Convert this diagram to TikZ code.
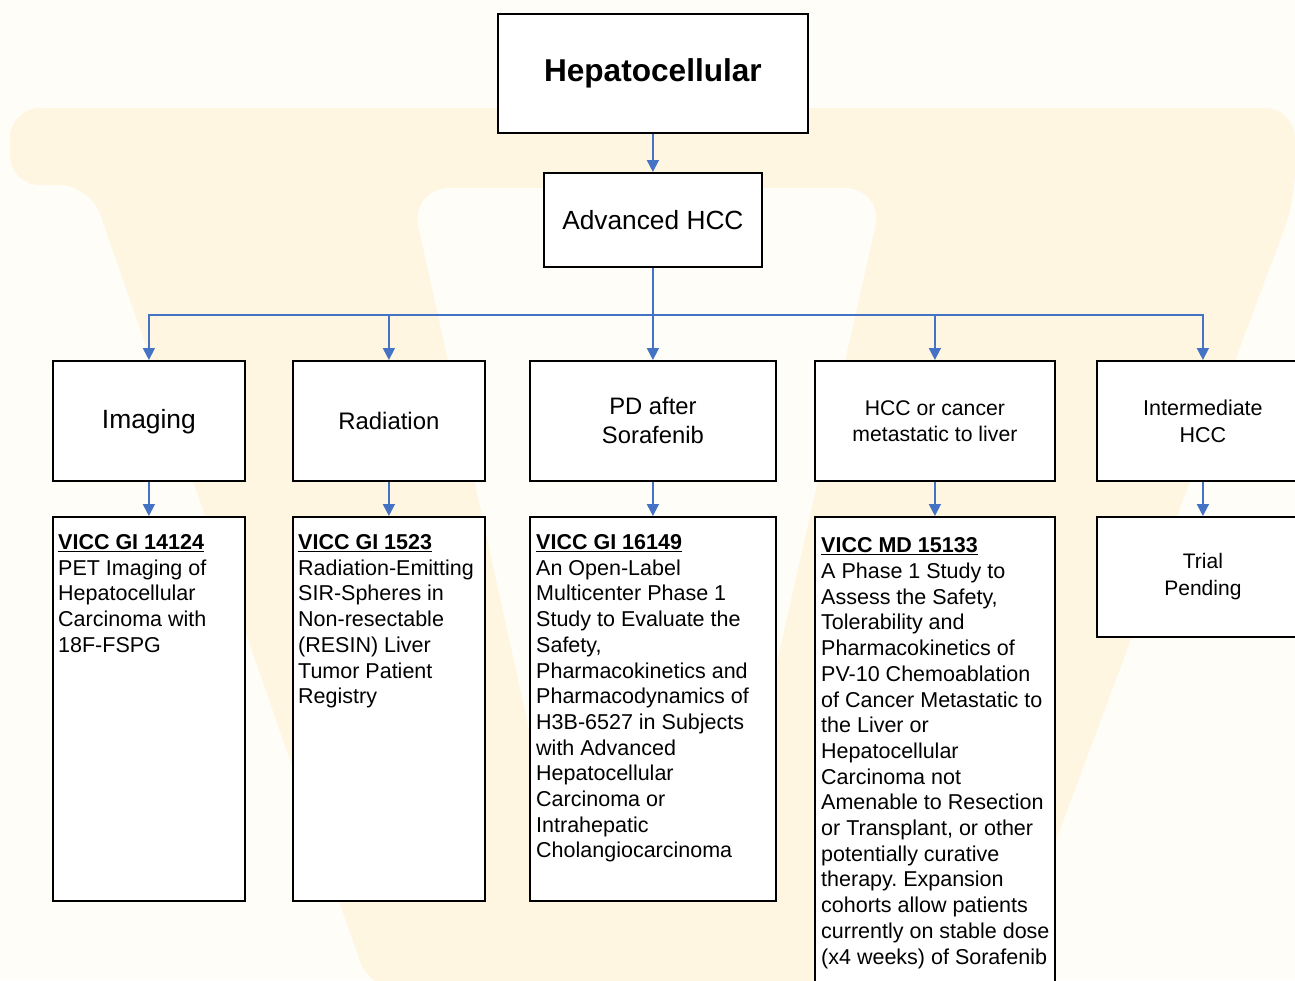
\documentclass[tikz,border=0pt]{standalone}
\usepackage{fontspec}
\setmainfont{Liberation Sans}
\usetikzlibrary{arrows.meta}
\definecolor{bgc}{HTML}{FEFDF8}
\definecolor{wmc}{HTML}{FFF6E2}
\definecolor{linkblue}{HTML}{4472C4}
\frenchspacing
\begin{document}
\begin{tikzpicture}[x=1pt,y=-1pt,
  box/.style={draw=black, line width=1.8pt, fill=white, inner sep=0pt, anchor=north west, align=center},
  body/.style={inner sep=0pt, anchor=north west, align=left, font=\fontsize{21.5pt}{25.7pt}\selectfont},
  link/.style={draw=linkblue, line width=1.7pt, -{Triangle[width=12pt,length=12pt]}},
  bus/.style={draw=linkblue, line width=1.7pt}]
\useasboundingbox (0,0) rectangle (1295,980);
\clip (0,0) rectangle (1295,980);
% background and watermark
\fill[bgc] (0,0) rectangle (1295,980);
\fill[wmc, rounded corners=30pt] (10,108) -- (1295,108) -- (1295,200) -- (1000,990) -- (370,990) -- (90,185) -- (10,185) -- cycle;
\fill[bgc, rounded corners=40pt] (410,188) -- (884,188) -- (730,870) -- (560,870) -- cycle;

% top levels
\node[box, minimum width=310pt, minimum height=119pt, font=\bfseries\fontsize{31.6pt}{36pt}\selectfont] (top) at (497,13) {Hepatocellular};
\node[box, minimum width=218pt, minimum height=94pt, font=\fontsize{26.3pt}{30pt}\selectfont] (adv) at (543,172) {Advanced HCC};

% level 2
\node[box, minimum width=192pt, minimum height=120pt, font=\fontsize{26.4pt}{30pt}\selectfont, text depth=3pt] (img) at (52,360) {Imaging};
\node[box, minimum width=192pt, minimum height=120pt, font=\fontsize{23.9pt}{28pt}\selectfont] (rad) at (292,360) {Radiation};
\node[box, minimum width=246pt, minimum height=120pt, font=\fontsize{23.8pt}{29pt}\selectfont] (pd) at (529,360) {PD after\\Sorafenib};
\node[box, minimum width=240pt, minimum height=120pt, font=\fontsize{21.2pt}{26pt}\selectfont] (met) at (814,360) {HCC or cancer\\metastatic to liver};
\node[box, minimum width=212pt, minimum height=120pt, font=\fontsize{21.5pt}{27pt}\selectfont] (inter) at (1096,360) {Intermediate\\HCC};

% level 3
\node[box, minimum width=192pt, minimum height=384pt] (t1) at (52,516) {};
\node[box, minimum width=192pt, minimum height=384pt] (t2) at (292,516) {};
\node[box, minimum width=246pt, minimum height=384pt] (t3) at (529,516) {};
\node[box, minimum width=240pt, minimum height=480pt] (t4) at (814,516) {};
\node[box, minimum width=212pt, minimum height=120pt, font=\fontsize{21pt}{27pt}\selectfont] (t5) at (1096,516) {Trial\\Pending};

\node[body] (t1txt) at ([xshift=6pt,yshift=-18.3pt]t1.north west) {\underline{\textbf{VICC GI 14124}}\\PET Imaging of\\Hepatocellular\\Carcinoma with\\18F-FSPG};
\node[body] (t2txt) at ([xshift=6pt,yshift=-18.3pt]t2.north west) {\underline{\textbf{VICC GI 1523}}\\Radiation-Emitting\\SIR-Spheres in\\Non-resectable\\(RESIN) Liver\\Tumor Patient\\Registry};
\node[body] (t3txt) at ([xshift=7pt,yshift=-18.3pt]t3.north west) {\underline{\textbf{VICC GI 16149}}\\An Open-Label\\Multicenter Phase 1\\Study to Evaluate the\\Safety,\\Pharmacokinetics and\\Pharmacodynamics of\\H3B-6527 in Subjects\\with Advanced\\Hepatocellular\\Carcinoma or\\Intrahepatic\\Cholangiocarcinoma};
\node[body] (t4txt) at ([xshift=7pt,yshift=-21.6pt]t4.north west) {\underline{\textbf{VICC MD 15133}}\\A Phase 1 Study to\\Assess the Safety,\\Tolerability and\\Pharmacokinetics of\\PV-10 Chemoablation\\of Cancer Metastatic to\\the Liver or\\Hepatocellular\\Carcinoma not\\Amenable to Resection\\or Transplant, or other\\potentially curative\\therapy. Expansion\\cohorts allow patients\\currently on stable dose\\(x4 weeks) of Sorafenib};

% connectors
\coordinate (hub) at (adv.south |- 0,315);
\draw[link] (top.south) -- (adv.north);
\draw[bus] (adv.south) -- (hub);
\draw[link] (hub) -| (img.north);
\draw[link] (hub) -| (rad.north);
\draw[link] (hub) -- (pd.north);
\draw[link] (hub) -| (met.north);
\draw[link] (hub) -| (inter.north);
\draw[link] (img.south) -- (t1.north);
\draw[link] (rad.south) -- (t2.north);
\draw[link] (pd.south) -- (t3.north);
\draw[link] (met.south) -- (t4.north);
\draw[link] (inter.south) -- (t5.north);
\end{tikzpicture}
\end{document}
